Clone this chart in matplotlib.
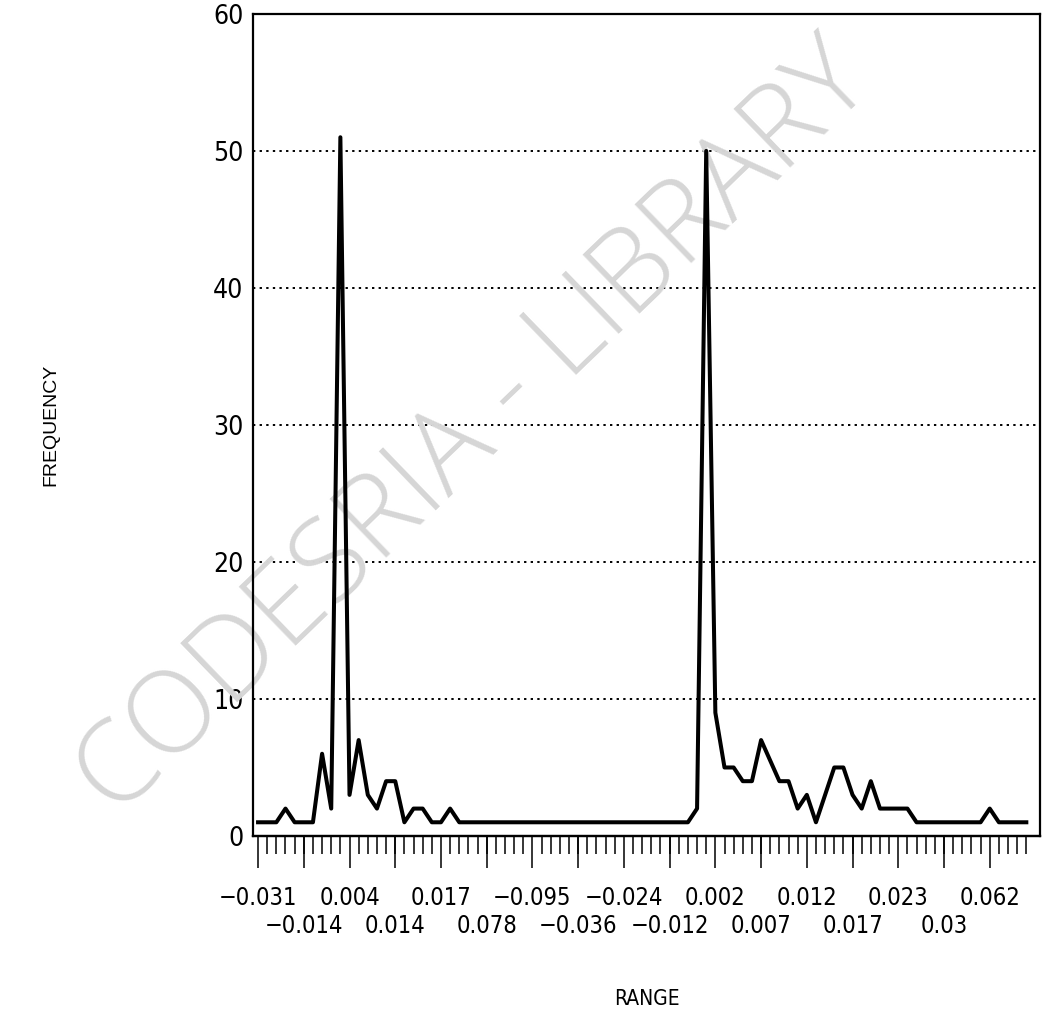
import numpy as np
import matplotlib.pyplot as plt

# frequency of each range class
freq = [1, 1, 1, 2, 1, 1, 1, 6, 2, 51,
        3, 7, 3, 2, 4, 4, 1, 2, 2, 1,
        1, 2, 1, 1, 1, 1, 1, 1, 1, 1,
        1, 1, 1, 1, 1, 1, 1, 1, 1, 1,
        1, 1, 1, 1, 1, 1, 1, 1, 2, 50,
        9, 5, 5, 4, 4, 7, 5.5, 4, 4, 2,
        3, 1, 3, 5, 5, 3, 2, 4, 2, 2,
        2, 2, 1, 1, 1, 1, 1, 1, 1, 1,
        2, 1, 1, 1, 1]

# labels on every fifth class, printed in two staggered rows
range_labels = ['\u22120.031', '\u22120.014', '0.004', '0.014', '0.017', '0.078',
                '\u22120.095', '\u22120.036', '\u22120.024', '\u22120.012', '0.002',
                '0.007', '0.012', '0.017', '0.023', '0.03', '0.062']
y_ticks = [0, 10, 20, 30, 40, 50, 60]

fig = plt.figure(figsize=(10.46, 10.18), dpi=100)
ax = fig.add_axes([0.2419, 0.1788, 0.7524, 0.8075])

x = np.arange(len(freq))
ax.plot(x, freq, color='black', lw=2.9, zorder=3)

ax.set_xlim(-0.55, 85.5)
ax.set_ylim(0, 60)

major = np.arange(0, len(freq), 5)
# upper row of labels on the main axis
ax.set_xticks(major[::2])
ax.set_xticklabels(range_labels[::2], fontsize=17, fontstretch='condensed')
ax.set_xticks(x, minor=True)
ax.tick_params(axis='x', which='major', length=23, width=1.1, pad=13, color='black')
ax.tick_params(axis='x', which='minor', length=13, width=1.1, color='black')

# lower row on a second bottom axis
ax2 = ax.secondary_xaxis('bottom')
ax2.set_xticks(major[1::2])
ax2.set_xticklabels(range_labels[1::2], fontsize=17, fontstretch='condensed')
ax2.tick_params(axis='x', length=23, width=1.1, pad=33, color='black')
ax2.spines['bottom'].set_linewidth(1.6)

ax.set_yticks(y_ticks)
ax.set_yticklabels([str(v) for v in y_ticks], fontsize=19, fontstretch='condensed')
ax.tick_params(axis='y', length=0, pad=7)

ax.yaxis.grid(True, linestyle=(0, (1.2, 2.2)), color='black', lw=1.4)
ax.set_axisbelow(True)
for sp in ax.spines.values():
    sp.set_linewidth(1.6)

fig.text(0.6185, 0.0187, 'RANGE', ha='center', va='center',
         fontsize=15, fontstretch='condensed')
fig.text(0.049, 0.583, 'FREQUENCY', rotation=90, ha='center', va='center',
         family=['Liberation Sans', 'DejaVu Sans'], fontsize=14)

# library watermark across the scan
ax.text(0.455, 0.576, 'CODESRIA - LIBRARY', transform=fig.transFigure,
        rotation=44, ha='center', va='center', fontsize=83, color='#d6d6d6',
        family=['Open Sans', 'DejaVu Sans'], fontweight='light',
        clip_on=False, zorder=1)

plt.savefig('out.png', dpi=100)
